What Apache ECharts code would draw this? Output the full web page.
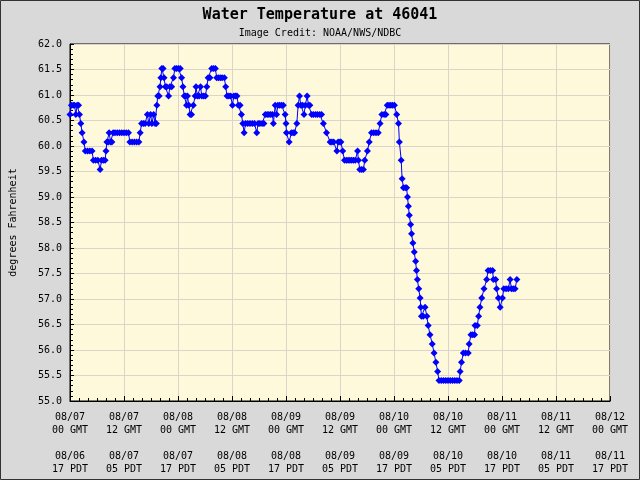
<!DOCTYPE html>
<html><head><meta charset="utf-8">
<script src="https://cdn.jsdelivr.net/npm/echarts@6/dist/echarts.min.js"></script>
<style>html,body{margin:0;padding:0;background:#d9d9d9}#c{width:640px;height:480px}</style>
</head><body><div id="c"></div>
<script>
// hours since 08/07 00 GMT
const hours = [
0.0,0.3,0.7,1.0,1.3,1.6,1.9,2.1,2.4,2.7,3.1,3.4,3.9,4.4,4.9,5.2,5.7,6.2,6.7,7.0,7.4,7.8,8.0,8.2,8.5,8.7,9.0,9.3,9.6,10.0,
10.5,11.0,11.5,12.0,12.5,13.0,13.3,13.8,14.3,14.8,15.3,15.6,15.9,16.3,16.7,17.2,17.5,17.9,18.2,18.6,18.9,19.2,19.3,19.5,19.8,20.0,20.2,20.4,20.7,20.9,
21.2,21.5,21.9,22.2,22.6,23.0,23.3,23.7,24.1,24.5,24.8,25.1,25.4,25.7,25.9,26.1,26.4,26.7,27.0,27.4,27.8,28.0,28.3,28.7,29.0,29.3,29.7,30.1,30.4,30.7,
31.1,31.5,31.9,32.3,32.6,33.0,33.4,33.8,34.3,34.6,34.9,35.3,35.7,36.1,36.4,36.8,37.1,37.4,37.8,38.1,38.4,38.7,39.0,39.5,40.0,40.5,41.0,41.5,41.8,42.2,
42.7,43.1,43.4,43.8,44.2,44.6,45.0,45.2,45.6,45.9,46.2,46.6,47.0,47.4,47.8,48.0,48.1,48.7,49.2,49.6,49.9,50.4,50.7,51.0,51.3,51.7,52.0,52.3,52.7,53.0,
53.3,53.7,54.1,54.6,55.0,55.5,55.9,56.3,57.0,57.8,58.2,58.6,59.3,59.6,60.0,60.2,60.6,61.0,61.4,61.8,62.2,62.6,63.0,63.4,63.9,64.1,64.4,64.8,65.2,65.5,
66.1,66.5,67.0,67.5,68.0,68.5,68.9,69.3,69.8,70.2,70.5,70.9,71.3,71.7,72.1,72.6,73.0,73.2,73.6,73.8,74.1,74.5,74.8,75.0,75.2,75.4,75.7,75.9,76.2,76.5,
76.8,77.0,77.2,77.5,77.8,77.95,78.1,78.5,78.9,79.3,79.6,80.0,80.5,80.9,81.3,81.7,82.0,82.5,83.0,83.5,84.0,84.5,85.0,85.5,86.0,86.5,86.7,87.0,87.4,87.9,
88.5,88.7,89.1,89.5,89.9,90.0,90.5,90.8,91.1,91.5,92.0,92.6,92.9,93.4,93.9,94.1,94.6,94.8,95.2,95.6,96.1,96.4,96.9,97.4,97.8,98.1,98.5,98.9,99.3
];
const tempsF = [
60.62,60.80,60.80,60.80,60.62,60.80,60.80,60.62,60.44,60.26,60.08,59.90,59.90,59.90,59.90,59.72,59.72,59.72,59.54,59.72,59.72,59.72,59.90,60.08,60.08,60.26,60.08,60.08,60.26,60.26,
60.26,60.26,60.26,60.26,60.26,60.26,60.08,60.08,60.08,60.08,60.08,60.26,60.44,60.44,60.44,60.62,60.44,60.62,60.44,60.62,60.44,60.44,60.80,60.98,60.98,61.16,61.34,61.52,61.52,61.34,
61.16,61.16,60.98,61.16,61.16,61.34,61.52,61.52,61.52,61.52,61.34,61.16,60.98,60.98,60.80,60.98,60.80,60.62,60.62,60.80,60.98,61.16,60.98,60.98,61.16,60.98,60.98,60.98,61.16,61.34,
61.34,61.52,61.52,61.52,61.34,61.34,61.34,61.34,61.34,61.16,60.98,60.98,60.98,60.80,60.98,60.98,60.98,60.80,60.80,60.62,60.44,60.26,60.44,60.44,60.44,60.44,60.44,60.26,60.44,60.44,
60.44,60.44,60.62,60.62,60.62,60.62,60.62,60.44,60.80,60.62,60.80,60.80,60.80,60.80,60.62,60.44,60.26,60.08,60.26,60.26,60.26,60.44,60.80,60.98,60.80,60.80,60.62,60.80,60.98,60.80,
60.80,60.62,60.62,60.62,60.62,60.62,60.62,60.44,60.26,60.08,60.08,60.08,59.90,60.08,60.08,60.08,59.90,59.72,59.72,59.72,59.72,59.72,59.72,59.72,59.90,59.72,59.54,59.54,59.54,59.72,
59.90,60.08,60.26,60.26,60.26,60.26,60.44,60.62,60.62,60.62,60.80,60.80,60.80,60.80,60.80,60.62,60.44,60.08,59.72,59.36,59.18,59.18,59.18,59.00,58.82,58.64,58.46,58.28,58.10,57.92,
57.74,57.56,57.38,57.20,57.02,56.84,56.66,56.66,56.84,56.66,56.48,56.30,56.12,55.94,55.76,55.58,55.40,55.40,55.40,55.40,55.40,55.40,55.40,55.40,55.40,55.40,55.58,55.76,55.94,55.94,
55.94,56.12,56.30,56.30,56.30,56.48,56.48,56.66,56.84,57.02,57.20,57.38,57.56,57.56,57.56,57.38,57.38,57.20,57.02,56.84,57.02,57.20,57.20,57.20,57.38,57.20,57.20,57.20,57.38
];
const tickGMT = ['08/07\n00 GMT','08/07\n12 GMT','08/08\n00 GMT','08/08\n12 GMT','08/09\n00 GMT','08/09\n12 GMT','08/10\n00 GMT','08/10\n12 GMT','08/11\n00 GMT','08/11\n12 GMT','08/12\n00 GMT'];
const tickPDT = ['08/06\n17 PDT','08/07\n05 PDT','08/07\n17 PDT','08/08\n05 PDT','08/08\n17 PDT','08/09\n05 PDT','08/09\n17 PDT','08/10\n05 PDT','08/10\n17 PDT','08/11\n05 PDT','08/11\n17 PDT'];

const FONT = 'DejaVu Sans Mono';
const chart = echarts.init(document.getElementById('c'), null, {renderer:'canvas'});
chart.setOption({
  animation:false,
  backgroundColor:'#d9d9d9',
  title:{
    text:'Water Temperature at 46041',
    subtext:'Image Credit: NOAA/NWS/NDBC',
    left:'center', top:3, itemGap:5,
    textStyle:{fontFamily:FONT,fontSize:15,fontWeight:'bold',color:'#000'},
    subtextStyle:{fontFamily:FONT,fontSize:10,color:'#000'}
  },
  graphic:[{type:'rect',shape:{x:0.5,y:0.5,width:639,height:479},style:{fill:'none',stroke:'#333',lineWidth:1},silent:true}],
  grid:{left:70,right:30,top:44,bottom:79,show:true,backgroundColor:'#fff9dc',borderColor:'#000',borderWidth:1},
  xAxis:{
    type:'value',min:0,max:120,interval:12,
    axisLine:{show:true,lineStyle:{color:'#000'}},
    axisTick:{show:true,inside:true,length:5,lineStyle:{color:'#000'}},
    minorTick:{show:true,splitNumber:6,length:3,lineStyle:{color:'#000'}},
    splitLine:{show:true,lineStyle:{color:'#dcd3cb',width:1}},
    axisLabel:{
      margin:10,fontFamily:FONT,fontSize:10,color:'#000',lineHeight:13,
      formatter:function(v){const i=Math.round(v/12);return tickGMT[i]+'\n\n'+tickPDT[i];}
    }
  },
  yAxis:{
    type:'value',min:55,max:62,interval:0.5,
    name:'degrees Fahrenheit',nameLocation:'middle',nameGap:52,
    nameTextStyle:{fontFamily:FONT,fontSize:10,color:'#000'},
    axisLine:{show:true,lineStyle:{color:'#000'}},
    axisTick:{show:true,inside:true,length:4,lineStyle:{color:'#000'}},
    minorTick:{show:true,splitNumber:5,length:3,lineStyle:{color:'#000'}},
    splitLine:{show:true,lineStyle:{color:'#dcd3cb',width:1}},
    axisLabel:{margin:8,fontFamily:FONT,fontSize:10,color:'#000',formatter:function(v){return v.toFixed(1);}}
  },
  series:[{
    type:'line',
    data:hours.map(function(h,i){return [h,tempsF[i]];}),
    symbol:'diamond',symbolSize:7,showAllSymbol:true,
    itemStyle:{color:'#0000ff'},
    lineStyle:{color:'#0000ff',width:1}
  }]
});
</script></body></html>
